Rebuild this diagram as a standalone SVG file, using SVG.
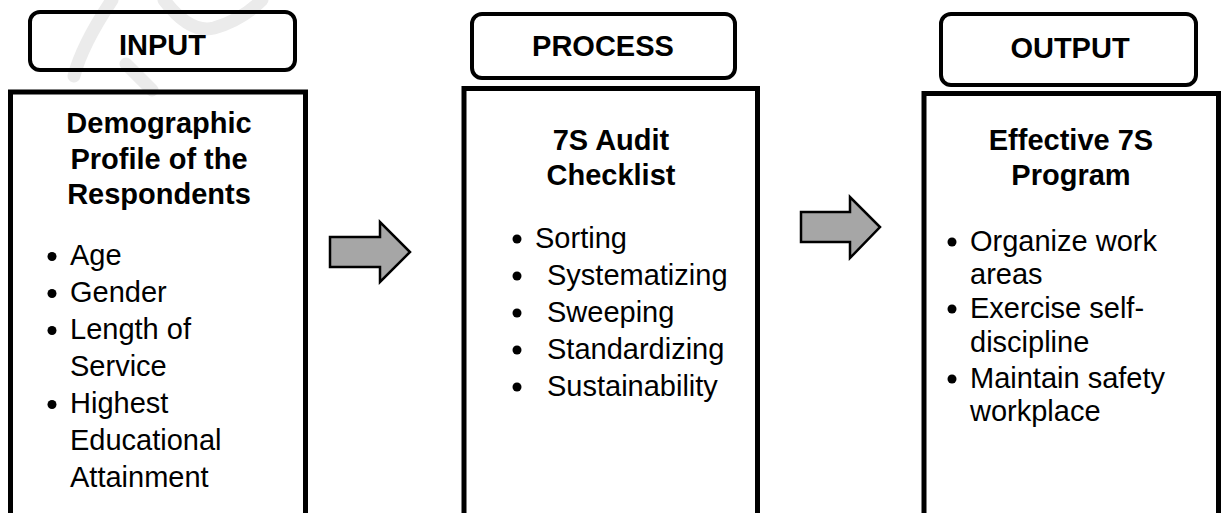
<svg xmlns="http://www.w3.org/2000/svg" width="1225" height="513" viewBox="0 0 1225 513">
  <style>
    .bg { fill: #ffffff; }
    .mark { fill: none; stroke: #ebebeb; stroke-width: 13; stroke-linecap: round; }
    .tag { fill: none; stroke: #000000; stroke-width: 4; }
    .frame { fill: none; stroke: #000000; stroke-width: 5; }
    .label { font-family: "Liberation Sans", Arial, sans-serif; font-size: 29px; font-weight: bold; fill: #000000; text-anchor: middle; }
    .head { font-family: "Liberation Sans", Arial, sans-serif; font-size: 29px; font-weight: bold; fill: #000000; text-anchor: middle; }
    .item { font-family: "Liberation Sans", Arial, sans-serif; font-size: 29px; fill: #000000; }
    .dot { fill: #000000; }
    .flow { fill: #a6a6a6; stroke: #000000; stroke-width: 2.5; stroke-linejoin: miter; }
  </style>

  <rect class="bg" x="0" y="0" width="1225" height="513"/>

  <!-- faint background watermark strokes -->
  <g id="watermark">
    <path class="mark" d="M112,0 Q82,45 74,76"/>
    <path class="mark" d="M126,64 L152,90"/>
    <path class="mark" d="M164,0 Q190,34 214,28 Q242,20 262,0"/>
  </g>

  <!-- INPUT column -->
  <g id="input">
    <rect class="tag" x="30" y="12" width="265" height="58" rx="10"/>
    <text class="label" x="162.5" y="55">INPUT</text>
    <path class="frame" d="M10.5,520 V92 H305.5 V520"/>
    <text class="head" x="159" y="133">Demographic</text>
    <text class="head" x="159" y="168.5">Profile of the</text>
    <text class="head" x="159" y="204">Respondents</text>
    <circle class="dot" cx="52" cy="256.5" r="4.5"/>
    <text class="item" x="70" y="265">Age</text>
    <circle class="dot" cx="52" cy="293.5" r="4.5"/>
    <text class="item" x="70" y="302">Gender</text>
    <circle class="dot" cx="52" cy="330.5" r="4.5"/>
    <text class="item" x="70" y="339">Length of</text>
    <text class="item" x="70" y="376">Service</text>
    <circle class="dot" cx="52" cy="404.5" r="4.5"/>
    <text class="item" x="70" y="413">Highest</text>
    <text class="item" x="70" y="450">Educational</text>
    <text class="item" x="70" y="487">Attainment</text>
  </g>

  <!-- PROCESS column -->
  <g id="process">
    <rect class="tag" x="472" y="14" width="263" height="64" rx="10"/>
    <text class="label" x="603" y="56">PROCESS</text>
    <path class="frame" d="M464,520 V88.5 H757.5 V520"/>
    <text class="head" x="611" y="150">7S Audit</text>
    <text class="head" x="611" y="185">Checklist</text>
    <circle class="dot" cx="517" cy="239" r="4.5"/>
    <text class="item" x="535" y="248">Sorting</text>
    <circle class="dot" cx="517" cy="276" r="4.5"/>
    <text class="item" x="547" y="285">Systematizing</text>
    <circle class="dot" cx="517" cy="313" r="4.5"/>
    <text class="item" x="547" y="322">Sweeping</text>
    <circle class="dot" cx="517" cy="350" r="4.5"/>
    <text class="item" x="547" y="359">Standardizing</text>
    <circle class="dot" cx="517" cy="387" r="4.5"/>
    <text class="item" x="547" y="396">Sustainability</text>
  </g>

  <!-- OUTPUT column -->
  <g id="output">
    <rect class="tag" x="941" y="14" width="255" height="71" rx="10"/>
    <text class="label" x="1070" y="58">OUTPUT</text>
    <path class="frame" d="M924,520 V93.5 H1218.5 V520"/>
    <text class="head" x="1071" y="150">Effective 7S</text>
    <text class="head" x="1071" y="185">Program</text>
    <circle class="dot" cx="952" cy="242" r="4.5"/>
    <text class="item" x="970" y="251">Organize work</text>
    <text class="item" x="970" y="284">areas</text>
    <circle class="dot" cx="952" cy="309" r="4.5"/>
    <text class="item" x="970" y="318">Exercise self-</text>
    <text class="item" x="970" y="352">discipline</text>
    <circle class="dot" cx="952" cy="379" r="4.5"/>
    <text class="item" x="970" y="388">Maintain safety</text>
    <text class="item" x="970" y="421">workplace</text>
  </g>

  <!-- block arrows between columns -->
  <g id="connectors">
    <polygon class="flow" points="330,237 380,237 380,222 410,252 380,282 380,267 330,267"/>
    <polygon class="flow" points="801,212 850,212 850,197 880,227 850,258 850,242 801,242"/>
  </g>
</svg>
